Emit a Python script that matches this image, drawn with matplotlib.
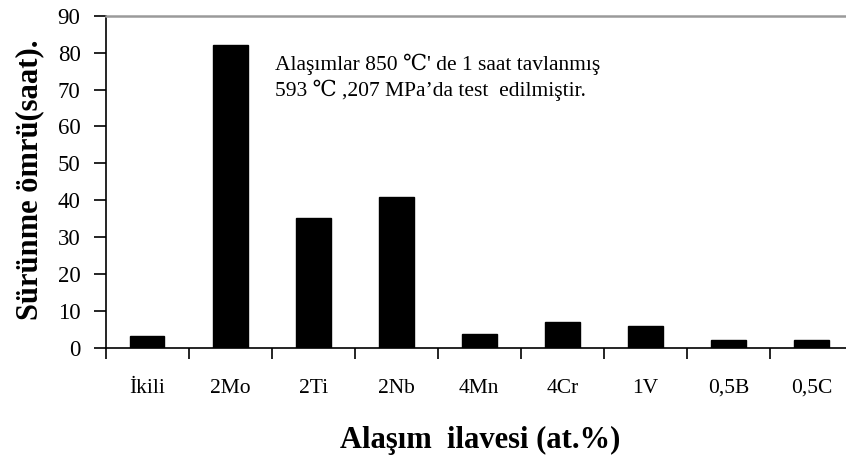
import matplotlib
matplotlib.use("Agg")
import matplotlib.pyplot as plt
import numpy as np

# Alloy additions and creep life values (hours)
alloys = ["İkili", "2Mo", "2Ti", "2Nb", "4Mn", "4Cr", "1V", "0,5B", "0,5C"]
creep_life = [3.2, 82.0, 35.3, 40.8, 3.8, 7.1, 6.0, 2.2, 2.2]

y_ticks = [0, 10, 20, 30, 40, 50, 60, 70, 80, 90]
note_lines = ["Alaşımlar 850 ℃' de 1 saat tavlanmış",
              "593 ℃ ,207 MPa’da test  edilmiştir."]
x_title = "Alaşım  ilavesi (at.%)"
y_title = "Sürünme ömrü(saat)."

serif = ["Liberation Serif", "DejaVu Serif"]
plt.rcParams["font.family"] = serif

W, H = 846, 462
fig = plt.figure(figsize=(W / 100, H / 100), dpi=100)
ax = fig.add_axes([105.5 / W, 114 / H, 747.5 / W, 332.3 / H])

x = np.arange(len(alloys))
ax.bar(x, creep_life, width=0.42, color="black", edgecolor="black", zorder=3)

ax.set_xlim(-0.5, len(alloys) - 0.5)
ax.set_ylim(0, 90)

# y axis
ax.set_yticks(y_ticks)
ax.tick_params(axis="y", direction="out", length=9, width=1.2, pad=9,
               labelsize=16.5, colors="black")

# x axis: tick marks at category boundaries, labels at category centers
ax.set_xticks(np.arange(-0.5, len(alloys), 1.0))
ax.set_xticklabels([])
ax.set_xticks(x, minor=True)
ax.set_xticklabels(alloys, minor=True)
ax.tick_params(axis="x", which="major", direction="out", length=8, width=1.2)
ax.tick_params(axis="x", which="minor", length=0, pad=22, labelsize=15.5)

for s in ["left", "bottom"]:
    ax.spines[s].set_color("black")
    ax.spines[s].set_linewidth(1.2)
ax.spines["top"].set_color("#9a9a9a")
ax.spines["top"].set_linewidth(1.8)
ax.spines["right"].set_visible(False)

fig.text(275 / W, 1 - 64 / H, note_lines[0], fontsize=15.5,
         va="center", ha="left")
fig.text(275 / W, 1 - 90 / H, note_lines[1], fontsize=15.5,
         va="center", ha="left")

fig.text(480 / W, 1 - 440 / H, x_title, fontsize=22, fontweight="bold",
         ha="center", va="center")
fig.text(30 / W, 1 - 180 / H, y_title, fontsize=22, fontweight="bold",
         ha="center", va="center", rotation=90)

fig.savefig("out.png", dpi=100)
